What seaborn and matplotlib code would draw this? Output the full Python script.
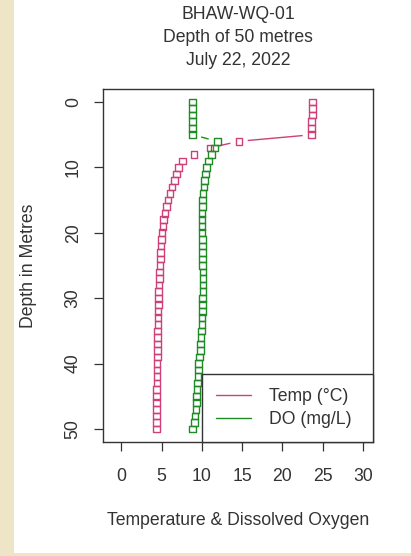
import numpy as np
import pandas as pd
import matplotlib
matplotlib.use("Agg")
import matplotlib.pyplot as plt
from matplotlib.lines import Line2D
from matplotlib.patches import Rectangle
from matplotlib.collections import LineCollection
import seaborn as sns

# Profile readings, one per metre of depth
depth_m = list(range(0, 51))
temp_c = [23.7, 23.7, 23.7, 23.6, 23.6, 23.6, 14.6, 11.0, 9.0, 7.6,
          7.1, 6.85, 6.6, 6.3, 6.05, 5.8, 5.6, 5.4, 5.25, 5.15,
          5.05, 4.98, 4.92, 4.87, 4.82, 4.78, 4.74, 4.70, 4.67, 4.64,
          4.61, 4.59, 4.57, 4.55, 4.53, 4.51, 4.49, 4.48, 4.46, 4.45,
          4.44, 4.43, 4.42, 4.41, 4.40, 4.39, 4.38, 4.37, 4.36, 4.35, 4.34]
do_mgl = [8.85, 8.85, 8.85, 8.85, 8.85, 8.85, 11.9, 11.6, 11.2, 10.85,
          10.6, 10.45, 10.35, 10.25, 10.15, 10.1, 10.05, 10.0, 10.0, 10.0,
          10.0, 10.05, 10.05, 10.1, 10.1, 10.1, 10.15, 10.15, 10.15, 10.15,
          10.1, 10.1, 10.05, 10.0, 10.0, 9.95, 9.9, 9.85, 9.8, 9.7,
          9.6, 9.55, 9.5, 9.45, 9.4, 9.35, 9.3, 9.25, 9.15, 9.05, 8.85]

series_labels = ["Temp (°C)", "DO (mg/L)"]
series_colors = ["#CF3F78", "#1E8B24"]
title_lines = ["BHAW-WQ-01", "Depth of 50 metres", "July 22, 2022"]
x_label = "Temperature & Dissolved Oxygen"
y_label = "Depth in Metres"
x_ticks = [0, 5, 10, 15, 20, 25, 30]
y_ticks = [0, 10, 20, 30, 40, 50]
legend_left_x = 10

df = pd.DataFrame({
    "depth": depth_m * 2,
    "value": temp_c + do_mgl,
    "series": [series_labels[0]] * len(depth_m) + [series_labels[1]] * len(depth_m),
})

sns.set_theme(style="ticks")
plt.rcParams["font.family"] = ["Liberation Sans", "DejaVu Sans"]
FS = 12.7
INK = "#333333"

W, H = 411, 556
fig = plt.figure(figsize=(W / 100, H / 100), dpi=100, facecolor="white")
# parchment edging
fig.patches.append(Rectangle((0, 0), 14 / W, 1, transform=fig.transFigure,
                             facecolor="#EEE4C6", edgecolor="none", zorder=0))
fig.patches.append(Rectangle((0, 0), 1, 3 / H, transform=fig.transFigure,
                             facecolor="#EEE4C6", edgecolor="none", zorder=0))

ax = fig.add_axes([103.3 / W, 114 / H, 269.7 / W, 353 / H])
ax.set_facecolor("white")

for lab, col in zip(series_labels, series_colors):
    sub = df[df["series"] == lab]
    sns.scatterplot(data=sub, x="value", y="depth", ax=ax, marker="s", s=23,
                    color=col, facecolor="none", edgecolor=col, linewidth=1.0,
                    legend=False, zorder=3)

xmin, xmax = -2.24, 31.24
ax.set_xlim(xmin, xmax)
ax.set_ylim(52, -2)


def gapped_segments(xs, ys, gap_px):
    """Connecting segments that stop short of each point (R's type='b')."""
    pts = ax.transData.transform(np.column_stack([xs, ys]))
    inv = ax.transData.inverted()
    segs = []
    for p0, p1 in zip(pts[:-1], pts[1:]):
        d = p1 - p0
        length = np.hypot(d[0], d[1])
        if length > 2 * gap_px:
            u = d / length
            segs.append([inv.transform(p0 + u * gap_px), inv.transform(p1 - u * gap_px)])
    return segs


for vals, col in zip([temp_c, do_mgl], series_colors):
    lc = LineCollection(gapped_segments(vals, depth_m, 8.8), colors=col, linewidths=1.0, zorder=2)
    ax.add_collection(lc)

ax.set_xticks(x_ticks)
ax.set_xticklabels([str(t) for t in x_ticks])
ax.set_yticks(y_ticks)
ax.set_yticklabels([str(t) for t in y_ticks], rotation=90, va="center")
ax.tick_params(axis="both", direction="out", length=6.5, width=0.9, color=INK,
               labelsize=FS, labelcolor=INK)
ax.tick_params(axis="x", pad=12)
ax.tick_params(axis="y", pad=9)
for sp in ax.spines.values():
    sp.set_visible(True)
    sp.set_color(INK)
    sp.set_linewidth(1.0)

ax.set_xlabel(x_label, fontsize=FS, color=INK)
ax.set_ylabel(y_label, fontsize=FS, color=INK)
ax.xaxis.set_label_coords(0.5, -0.221)
ax.xaxis.label.set_va("center")
ax.yaxis.set_label_coords(-0.279, 0.5)
ax.yaxis.label.set_va("center")

ax.set_title("\n".join(title_lines), fontsize=FS, color=INK, linespacing=1.46, pad=17.5)

handles = [Line2D([], [], color=c, lw=1.0) for c in series_colors]
x0 = (legend_left_x - xmin) / (xmax - xmin)
leg = ax.legend(handles, series_labels, loc="lower left",
                bbox_to_anchor=(x0, 0, 1 - x0, 0.1), mode="expand",
                borderaxespad=0, fancybox=False, framealpha=1, edgecolor=INK,
                fontsize=FS, handlelength=2.0, handletextpad=1.0,
                labelspacing=0.35, borderpad=0.8)
leg.get_frame().set_linewidth(1.0)
for t in leg.get_texts():
    t.set_color(INK)

fig.savefig("out.png", dpi=100, facecolor="white")
